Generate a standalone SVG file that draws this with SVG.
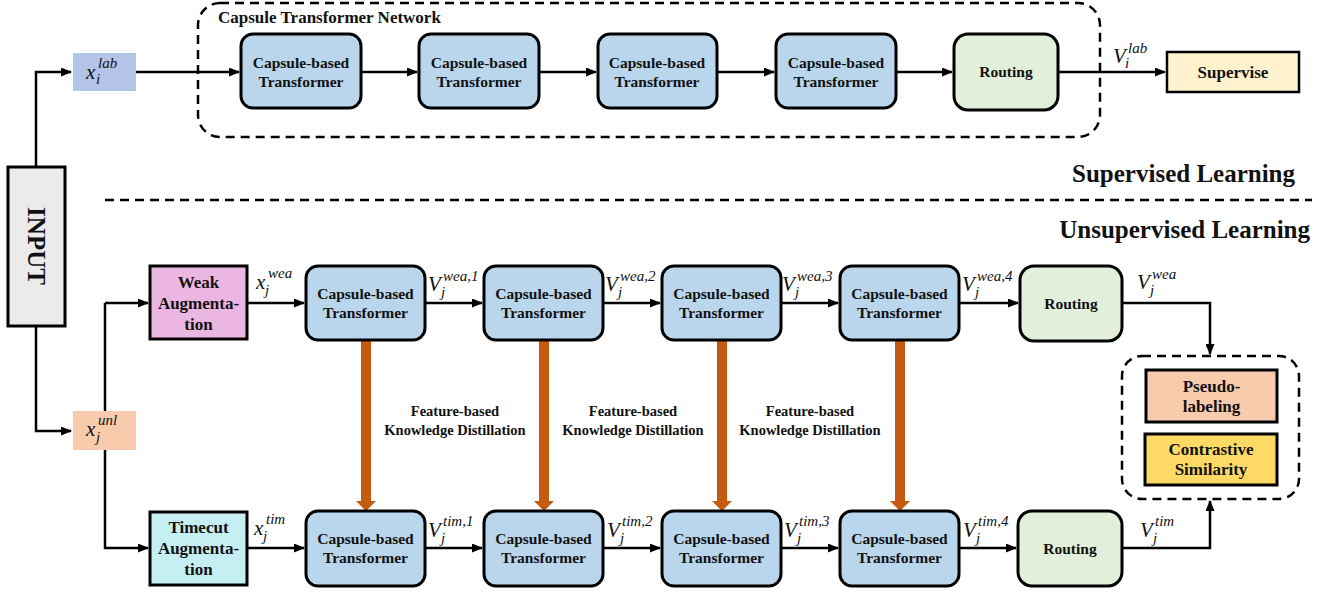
<svg xmlns="http://www.w3.org/2000/svg" width="1329" height="594" viewBox="0 0 1329 594">
<defs>
<marker id="ah" markerUnits="userSpaceOnUse" markerWidth="11" markerHeight="9" refX="10" refY="4.5" orient="auto">
<path d="M0,0 L11,4.5 L0,9 z" fill="#000"/>
</marker>
<style>
.cap{fill:#b9d6ec;stroke:#000;stroke-width:3}
.rout{fill:#e2efda;stroke:#000;stroke-width:3}
.bt{font-family:"Liberation Serif",serif;font-weight:bold;font-size:15.5px;fill:#111;text-anchor:middle}
.bt17{font-family:"Liberation Serif",serif;font-weight:bold;font-size:17px;fill:#111;text-anchor:middle}
.big{font-family:"Liberation Serif",serif;font-weight:bold;font-size:25px;fill:#111}
.m{font-family:"Liberation Serif",serif;font-style:italic;font-size:21px;fill:#111}
.s{font-family:"Liberation Serif",serif;font-style:italic;font-size:15px;fill:#111}
.ln{fill:none;stroke:#000;stroke-width:2.5}
.dash{fill:none;stroke:#000;stroke-width:2.5;stroke-dasharray:9 6}
.kd{fill:#c55a11}
</style>
</defs>
<rect width="1329" height="594" fill="#fff"/>

<!-- frames -->
<g id="capsule-network-frame">
<rect x="198" y="3" width="902" height="134" rx="22" class="dash"/>
<text x="218" y="23" style="font-family:'Liberation Serif',serif;font-weight:bold;font-size:17px;fill:#111">Capsule Transformer Network</text>
</g>
<g id="separator">
<line x1="105" y1="200" x2="1312" y2="200" class="dash"/>
<text x="1295" y="182" class="big" text-anchor="end">Supervised Learning</text>
<text x="1310" y="238" class="big" text-anchor="end">Unsupervised Learning</text>
</g>
<g id="loss-frame">
<rect x="1122" y="356" width="177" height="143" rx="20" class="dash"/>
</g>

<!-- connectors -->
<g id="connectors">
<path d="M36,167 V72 H71" class="ln" marker-end="url(#ah)"/>
<path d="M36,326 V431 H71" class="ln" marker-end="url(#ah)"/>
<line x1="136" y1="72" x2="239" y2="72" class="ln" marker-end="url(#ah)"/>
<line x1="361" y1="72" x2="417" y2="72" class="ln" marker-end="url(#ah)"/>
<line x1="539" y1="72" x2="596" y2="72" class="ln" marker-end="url(#ah)"/>
<line x1="717" y1="72" x2="774" y2="72" class="ln" marker-end="url(#ah)"/>
<line x1="896" y1="72" x2="952" y2="72" class="ln" marker-end="url(#ah)"/>
<line x1="1058" y1="72" x2="1165" y2="72" class="ln" marker-end="url(#ah)"/>
<path d="M105,303 V548 H148" class="ln" marker-end="url(#ah)"/>
<line x1="105" y1="303" x2="148" y2="303" class="ln" marker-end="url(#ah)"/>
<line x1="247" y1="303" x2="304" y2="303" class="ln" marker-end="url(#ah)"/>
<line x1="425" y1="303" x2="482" y2="303" class="ln" marker-end="url(#ah)"/>
<line x1="603" y1="303" x2="660" y2="303" class="ln" marker-end="url(#ah)"/>
<line x1="781" y1="303" x2="838" y2="303" class="ln" marker-end="url(#ah)"/>
<line x1="959" y1="303" x2="1018" y2="303" class="ln" marker-end="url(#ah)"/>
<path d="M1122,303 H1210 V354" class="ln" marker-end="url(#ah)"/>
<line x1="247" y1="548" x2="304" y2="548" class="ln" marker-end="url(#ah)"/>
<line x1="425" y1="548" x2="482" y2="548" class="ln" marker-end="url(#ah)"/>
<line x1="603" y1="548" x2="660" y2="548" class="ln" marker-end="url(#ah)"/>
<line x1="781" y1="548" x2="838" y2="548" class="ln" marker-end="url(#ah)"/>
<line x1="959" y1="548" x2="1016" y2="548" class="ln" marker-end="url(#ah)"/>
<path d="M1122,548 H1210 V501" class="ln" marker-end="url(#ah)"/>
<!-- knowledge distillation arrows -->
<path class="kd" d="M361,341 H371 V501 H376 L366,511 L356,501 H361 Z"/>
<path class="kd" d="M539,341 H549 V501 H554 L544,511 L534,501 H539 Z"/>
<path class="kd" d="M717,341 H727 V501 H732 L722,511 L712,501 H717 Z"/>
<path class="kd" d="M895,341 H905 V501 H910 L900,511 L890,501 H895 Z"/>
<text x="455" y="416" class="bt" style="font-size:14.5px">Feature-based</text>
<text x="455" y="435" class="bt" style="font-size:14.5px">Knowledge Distillation</text>
<text x="633" y="416" class="bt" style="font-size:14.5px">Feature-based</text>
<text x="633" y="435" class="bt" style="font-size:14.5px">Knowledge Distillation</text>
<text x="810" y="416" class="bt" style="font-size:14.5px">Feature-based</text>
<text x="810" y="435" class="bt" style="font-size:14.5px">Knowledge Distillation</text>
<!-- math labels -->
<text x="1113" y="63" class="m">V</text><text x="1128" y="53" class="s">lab</text><text x="1125" y="68" class="s">i</text>
<text x="256" y="289" class="m">x</text><text x="268" y="278" class="s">wea</text><text x="265" y="295" class="s">j</text>
<text x="428" y="291" class="m">V</text><text x="443" y="281" class="s">wea,1</text><text x="441" y="297" class="s">j</text>
<text x="605" y="291" class="m">V</text><text x="620" y="281" class="s">wea,2</text><text x="618" y="297" class="s">j</text>
<text x="782" y="291" class="m">V</text><text x="797" y="281" class="s">wea,3</text><text x="795" y="297" class="s">j</text>
<text x="962" y="291" class="m">V</text><text x="977" y="281" class="s">wea,4</text><text x="975" y="297" class="s">j</text>
<text x="1137" y="289" class="m">V</text><text x="1152" y="279" class="s">wea</text><text x="1150" y="295" class="s">j</text>
<text x="254" y="535" class="m">x</text><text x="266" y="524" class="s">tim</text><text x="263" y="541" class="s">j</text>
<text x="428" y="537" class="m">V</text><text x="443" y="526" class="s">tim,1</text><text x="441" y="543" class="s">j</text>
<text x="607" y="537" class="m">V</text><text x="622" y="526" class="s">tim,2</text><text x="620" y="543" class="s">j</text>
<text x="784" y="537" class="m">V</text><text x="799" y="526" class="s">tim,3</text><text x="797" y="543" class="s">j</text>
<text x="963" y="537" class="m">V</text><text x="978" y="526" class="s">tim,4</text><text x="976" y="543" class="s">j</text>
<text x="1140" y="537" class="m">V</text><text x="1155" y="526" class="s">tim</text><text x="1153" y="543" class="s">j</text>
</g>

<!-- nodes -->
<g id="input">
<rect x="8" y="167" width="57" height="159" fill="#ebebeb" stroke="#000" stroke-width="3"/>
<text transform="translate(36,246) rotate(90)" x="0" y="8" class="big" text-anchor="middle">INPUT</text>
</g>
<g id="x-lab">
<rect x="73" y="53" width="63" height="38" fill="#b4c3e8"/>
<text x="86" y="79" class="m">x</text><text x="98" y="68" class="s">lab</text><text x="96" y="84" class="s">i</text>
</g>
<g id="x-unl">
<rect x="73" y="411" width="63" height="39" fill="#f8cbad"/>
<text x="86" y="436" class="m">x</text><text x="98" y="425" class="s">unl</text><text x="96" y="442" class="s">j</text>
</g>

<g id="top-ct1"><rect x="241" y="34" width="120" height="74" rx="12" class="cap"/><text x="301" y="68" class="bt">Capsule-based</text><text x="301" y="87" class="bt">Transformer</text></g>
<g id="top-ct2"><rect x="419" y="34" width="120" height="74" rx="12" class="cap"/><text x="479" y="68" class="bt">Capsule-based</text><text x="479" y="87" class="bt">Transformer</text></g>
<g id="top-ct3"><rect x="598" y="34" width="119" height="74" rx="12" class="cap"/><text x="657" y="68" class="bt">Capsule-based</text><text x="657" y="87" class="bt">Transformer</text></g>
<g id="top-ct4"><rect x="776" y="34" width="120" height="74" rx="12" class="cap"/><text x="836" y="68" class="bt">Capsule-based</text><text x="836" y="87" class="bt">Transformer</text></g>
<g id="top-routing"><rect x="954" y="34" width="104" height="76" rx="14" class="rout"/><text x="1006" y="77" class="bt">Routing</text></g>
<g id="supervise"><rect x="1167" y="52" width="132" height="40" fill="#fff2cc" stroke="#000" stroke-width="2.5"/><text x="1233" y="78" class="bt17">Supervise</text></g>

<g id="weak-aug"><rect x="150" y="266" width="97" height="73" fill="#ebb6e1" stroke="#000" stroke-width="3"/><text x="198.5" y="288" class="bt17">Weak</text><text x="198.5" y="309" class="bt17">Augmenta-</text><text x="198.5" y="330" class="bt17">tion</text></g>
<g id="weak-ct1"><rect x="306" y="266" width="119" height="74" rx="12" class="cap"/><text x="365.5" y="299" class="bt">Capsule-based</text><text x="365.5" y="318" class="bt">Transformer</text></g>
<g id="weak-ct2"><rect x="484" y="266" width="119" height="74" rx="12" class="cap"/><text x="543.5" y="299" class="bt">Capsule-based</text><text x="543.5" y="318" class="bt">Transformer</text></g>
<g id="weak-ct3"><rect x="662" y="266" width="119" height="74" rx="12" class="cap"/><text x="721.5" y="299" class="bt">Capsule-based</text><text x="721.5" y="318" class="bt">Transformer</text></g>
<g id="weak-ct4"><rect x="840" y="266" width="119" height="74" rx="12" class="cap"/><text x="899.5" y="299" class="bt">Capsule-based</text><text x="899.5" y="318" class="bt">Transformer</text></g>
<g id="weak-routing"><rect x="1020" y="266" width="102" height="75" rx="14" class="rout"/><text x="1071" y="309" class="bt">Routing</text></g>

<g id="timecut-aug"><rect x="150" y="512" width="97" height="73" fill="#c6eff4" stroke="#000" stroke-width="3"/><text x="198.5" y="533" class="bt17">Timecut</text><text x="198.5" y="554" class="bt17">Augmenta-</text><text x="198.5" y="575" class="bt17">tion</text></g>
<g id="tim-ct1"><rect x="306" y="511" width="119" height="75" rx="12" class="cap"/><text x="365.5" y="544" class="bt">Capsule-based</text><text x="365.5" y="563" class="bt">Transformer</text></g>
<g id="tim-ct2"><rect x="484" y="511" width="119" height="75" rx="12" class="cap"/><text x="543.5" y="544" class="bt">Capsule-based</text><text x="543.5" y="563" class="bt">Transformer</text></g>
<g id="tim-ct3"><rect x="662" y="511" width="119" height="75" rx="12" class="cap"/><text x="721.5" y="544" class="bt">Capsule-based</text><text x="721.5" y="563" class="bt">Transformer</text></g>
<g id="tim-ct4"><rect x="840" y="511" width="119" height="75" rx="12" class="cap"/><text x="899.5" y="544" class="bt">Capsule-based</text><text x="899.5" y="563" class="bt">Transformer</text></g>
<g id="tim-routing"><rect x="1018" y="511" width="104" height="75" rx="14" class="rout"/><text x="1070" y="554" class="bt">Routing</text></g>

<g id="pseudo-labeling"><rect x="1146" y="370" width="131" height="52" fill="#f8cbad" stroke="#000" stroke-width="3"/><text x="1211.5" y="391.5" class="bt17">Pseudo-</text><text x="1211.5" y="411.5" class="bt17">labeling</text></g>
<g id="contrastive-similarity"><rect x="1145" y="434" width="132" height="51" fill="#ffd966" stroke="#000" stroke-width="3"/><text x="1211" y="455" class="bt17">Contrastive</text><text x="1211" y="475" class="bt17">Similarity</text></g>
</svg>
